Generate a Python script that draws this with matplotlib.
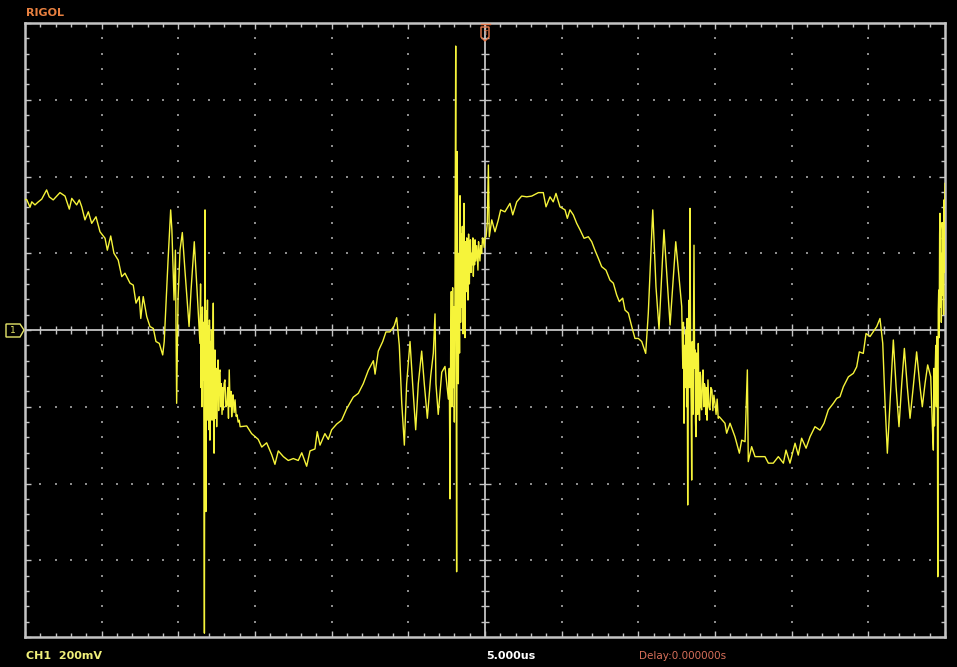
import numpy as np
import matplotlib.pyplot as plt
from matplotlib.patches import Polygon

# Oscilloscope trace (5 us/div, 200 mV/div), in pieces
# first half-swing and its ringing
seg1_t = [-30.0, -29.89, -29.67, -29.56, -29.35, -29.13, -28.91, -28.59, -28.42, -28.16,
          -27.93, -27.72, -27.39, -27.11, -26.95, -26.63, -26.46, -26.30, -26.09, -25.87,
          -25.65, -25.37, -25.11, -24.78, -24.63, -24.41, -24.20, -23.92, -23.69, -23.48,
          -23.15, -22.94, -22.76, -22.55, -22.45, -22.29, -22.06, -21.85, -21.63, -21.46,
          -21.24, -21.02, -20.92, -20.67, -20.50, -20.42, -20.28, -20.19, -20.11, -20.02,
          -19.89, -19.74, -19.57, -19.30, -19.17, -18.96, -18.78, -18.59]
seg1_v = [340, 340, 320, 334, 326, 334, 341, 365, 347, 339,
          349, 358, 349, 315, 343, 326, 339, 321, 287, 308,
          278, 295, 256, 239, 208, 245, 200, 182, 139, 148,
          122, 117, 70, 87, 30, 87, 35, 9, 4, -30,
          -35, -65, -30, 182, 313, 261, 78, 208, -191, 78,
          208, 254, 156, 9, 104, 230, 104, -35]

# switching burst 1
burst1_t = [-18.55, -18.52, -18.49, -18.46, -18.43, -18.39, -18.35, -18.30, -18.26, -18.22,
            -18.20, -18.17, -18.13, -18.10, -18.07, -18.04, -18.00, -17.97, -17.94, -17.91,
            -17.87, -17.84, -17.80, -17.76, -17.72, -17.69, -17.67, -17.64, -17.61, -17.57,
            -17.53, -17.50, -17.46, -17.41, -17.37, -17.33, -17.28, -17.24, -17.20, -17.15,
            -17.10, -17.07, -17.02, -16.96, -16.90, -16.83, -16.78, -16.73, -16.68, -16.62,
            -16.56, -16.52, -16.46, -16.43, -16.36, -16.30, -16.23, -16.17, -16.10, -16.03,
            -15.97]
burst1_v = [120, -150, 40, -200, 60, -130, 20, -790, 313, -150,
            -473, 50, -200, 78, -235, 10, -260, 26, -287, -30,
            -200, 0, -235, -60, 70, -200, -321, -80, -52, -230,
            -100, -252, -120, -78, -210, -110, -104, -200, -140, -220,
            -150, -208, -140, -130, -200, -195, -150, -230, -104, -200,
            -160, -226, -180, -169, -215, -182, -225, -221, -240, -235,
            -252]

# second half-swing (negative) and its ringing
seg2_t = [-15.54, -15.22, -14.79, -14.56, -14.24, -13.91, -13.70, -13.48, -13.15, -12.83,
          -12.50, -12.18, -11.95, -11.63, -11.41, -11.09, -10.94, -10.76, -10.44, -10.22,
          -10.00, -9.67, -9.35, -9.02, -8.59, -8.26, -7.94, -7.61, -7.28, -7.17,
          -6.96, -6.67, -6.46, -6.20, -5.93, -5.76, -5.59, -5.43, -5.26, -5.11,
          -4.89, -4.72, -4.52, -4.35, -4.13, -3.96, -3.76, -3.54, -3.37, -3.26,
          -3.20, -3.05, -2.82, -2.61]
seg2_v = [-250, -270, -285, -305, -294, -325, -350, -315, -330, -340,
          -335, -340, -320, -355, -315, -310, -265, -300, -270, -285,
          -260, -245, -235, -205, -175, -165, -140, -105, -80, -115,
          -55, -30, -5, -5, 10, 32, -40, -190, -300, -140,
          -30, -140, -260, -140, -55, -140, -230, -120, -60, 42,
          -140, -220, -110, -95]

# switching burst 2 (around the trigger point)
burst2_t = [-2.39, -2.33, -2.28, -2.24, -2.20, -2.16, -2.11, -2.07, -2.03, -2.00,
            -1.96, -1.91, -1.88, -1.85, -1.81, -1.77, -1.74, -1.70, -1.66, -1.63,
            -1.59, -1.55, -1.52, -1.48, -1.43, -1.40, -1.37, -1.33, -1.30, -1.26,
            -1.22, -1.19, -1.15, -1.11, -1.07, -1.02, -0.98, -0.95, -0.91, -0.87,
            -0.83, -0.79, -0.76, -0.72, -0.68, -0.65, -0.60, -0.54, -0.50, -0.46,
            -0.42, -0.39, -0.33, -0.28, -0.22, -0.16, -0.11, -0.05, 0.00]
burst2_v = [-180, -100, -440, -60, 100, -200, 110, -150, 60, -240,
            80, 740, -100, -630, 465, -50, -140, 200, -60, 350,
            20, 250, 60, 270, -10, 261, 330, 50, -20, 230,
            100, 240, 120, 78, 250, 120, 200, 235, 150, 200,
            170, 240, 140, 210, 170, 235, 180, 220, 190, 156,
            230, 208, 180, 220, 200, 240, 235, 215, 240]

# third half-swing (positive) and its ringing
seg3_t = [0.07, 0.15, 0.22, 0.28, 0.44, 0.65, 0.87, 1.02, 1.30,
          1.63, 1.81, 2.07, 2.39, 2.72, 3.05, 3.48, 3.80, 3.98, 4.24,
          4.45, 4.63, 4.89, 5.22, 5.37, 5.54, 5.76, 5.98, 6.20, 6.46,
          6.74, 6.96, 7.17, 7.39, 7.61, 7.89, 8.15, 8.37, 8.59, 8.76,
          8.98, 9.13, 9.35, 9.57, 9.78, 10.00, 10.22, 10.48, 10.65, 10.94,
          11.15, 11.35, 11.67, 12.07, 12.44]
seg3_v = [243, 280, 430, 243, 287, 256, 287, 313, 308,
          330, 300, 334, 349, 347, 349, 358, 358, 321, 347,
          334, 356, 321, 313, 291, 313, 300, 278, 261, 239,
          243, 230, 208, 187, 165, 156, 130, 122, 91, 74,
          83, 52, 44, 9, -22, -22, -30, -61, 44, 313,
          113, 2, 261, 13, 230]

# switching burst 3
burst3_t = [12.83, 12.90, 12.94, 12.98, 13.02, 13.06, 13.11, 13.15, 13.18, 13.22,
            13.26, 13.31, 13.34, 13.37, 13.41, 13.45, 13.48, 13.52, 13.56, 13.60,
            13.63, 13.67, 13.70, 13.73, 13.76, 13.80, 13.83, 13.87, 13.91, 13.95,
            13.99, 14.04, 14.09, 14.13, 14.18, 14.22, 14.27, 14.31, 14.35, 14.40,
            14.44, 14.48, 14.54, 14.60, 14.67, 14.73, 14.80, 14.86, 14.93, 15.00,
            15.07, 15.14, 15.21, 15.28]
burst3_v = [61, -100, 20, -243, -40, -150, 0, -200, 30, -456,
            -60, 78, -150, 317, -80, -200, -391, -30, -220, 40,
            221, -100, -52, -240, -278, -60, -78, -220, -35, -180,
            -235, -110, -200, -208, -120, -104, -200, -140, -148, -220,
            -150, -235, -130, -200, -208, -150, -156, -210, -170, -191,
            -220, -180, -230, -226]

# fourth half-swing (negative) and its ringing
seg4_t = [15.65, 15.76, 15.98, 16.30, 16.59, 16.74, 16.96, 17.11, 17.17, 17.39,
          17.61, 17.93, 18.26, 18.48, 18.80, 19.13, 19.46, 19.63, 19.89, 20.22,
          20.43, 20.65, 20.94, 21.20, 21.52, 21.85, 22.11, 22.39, 22.72, 22.94,
          23.15, 23.37, 23.70, 24.02, 24.24, 24.41, 24.67, 24.85, 25.11, 25.33,
          25.55, 25.76, 25.94, 26.09, 26.24, 26.41, 26.63, 26.81, 27.00, 27.18,
          27.35, 27.54, 27.72, 27.93, 28.15, 28.37, 28.52, 28.70, 28.87, 29.07]
seg4_v = [-243, -269, -243, -278, -321, -287, -291, -104, -343, -304,
          -330, -330, -330, -347, -347, -330, -347, -313, -347, -295,
          -326, -282, -308, -278, -252, -261, -243, -208, -191, -178,
          -174, -148, -122, -113, -96, -57, -61, -9, -17, -4,
          9, 30, -35, -191, -321, -191, -26, -148, -252, -139,
          -48, -148, -230, -148, -57, -148, -200, -139, -91, -122]

# switching burst 4 (right edge)
burst4_t = [29.20, 29.24, 29.28, 29.31, 29.35, 29.40, 29.44, 29.46, 29.50, 29.53,
            29.56, 29.59, 29.62, 29.65, 29.67, 29.70, 29.73, 29.76, 29.78, 29.81,
            29.84, 29.87, 29.89, 29.91, 29.93, 29.96, 29.98, 30.0]
burst4_v = [-278, -313, -100, -250, -122, -40, -200, -17, -100, -643,
            50, 104, -20, 250, 304, 60, 200, 20, 70, 280,
            261, 90, 191, 40, 339, 150, 300, 382]

time_us = np.concatenate([seg1_t, burst1_t, seg2_t, burst2_t, seg3_t, burst3_t, seg4_t, burst4_t])
volt_mv = np.concatenate([seg1_v, burst1_v, seg2_v, burst2_v, seg3_v, burst3_v, seg4_v, burst4_v])

W, H = 957, 667
fig = plt.figure(figsize=(W / 100, H / 100), dpi=100, facecolor='black')
ax = fig.add_axes([25 / W, 30 / H, 920 / W, 614 / H], facecolor='black')

gray = '#c4c4c4'
dotc = '#8c8c8c'

# dotted graticule
gx, gy = [], []
for x in range(-25, 30, 5):
    if x == 0:
        continue
    for y in range(-760, 800, 40):
        gx.append(x)
        gy.append(y)
for y in range(-600, 800, 200):
    if y == 0:
        continue
    for x in range(-29, 30):
        gx.append(x)
        gy.append(y)
ax.scatter(gx, gy, s=1.2, marker='s', color=dotc, linewidths=0, zorder=1)

# center cross with ticks
ax.axhline(0, color=gray, lw=1.3, zorder=2)
ax.axvline(0, color=gray, lw=1.3, zorder=2)
mx = [x for x in range(-29, 30) if x % 5 != 0]
Mx = [x for x in range(-25, 30, 5) if x != 0]
my = [y for y in range(-760, 800, 40) if y % 200 != 0]
My = [y for y in range(-600, 800, 200) if y != 0]
ax.scatter(mx, np.zeros(len(mx)), marker='|', s=30, color=gray, linewidths=1, zorder=2)
ax.scatter(Mx, np.zeros(len(Mx)), marker='|', s=70, color=gray, linewidths=1, zorder=2)
ax.scatter(np.zeros(len(my)), my, marker='_', s=30, color=gray, linewidths=1, zorder=2)
ax.scatter(np.zeros(len(My)), My, marker='_', s=70, color=gray, linewidths=1, zorder=2)

# waveform
ax.plot(time_us, volt_mv, color='#f6f43a', lw=1.0, zorder=3)

ax.set_xlim(-30, 30)
ax.set_ylim(-800, 800)
ax.set_xticks(range(-30, 31, 5))
ax.set_xticks(range(-30, 31, 1), minor=True)
ax.set_yticks(range(-800, 801, 200))
ax.set_yticks(range(-800, 801, 40), minor=True)
ax.tick_params(which='both', direction='in', top=True, right=True,
               labelbottom=False, labelleft=False, color=gray, width=1)
ax.tick_params(which='major', length=4)
ax.tick_params(which='minor', length=3)
for s in ax.spines.values():
    s.set_color(gray)
    s.set_linewidth(1.8)


def px(x, y):
    return (x / W, 1 - y / H)


# channel 1 marker
yel = '#e6e66a'
fig.add_artist(Polygon([px(6, 324), px(20, 324), px(24, 330), px(20, 337), px(6, 337)],
                       closed=True, fill=False, edgecolor=yel, lw=1, transform=fig.transFigure))
fig.text(*px(13, 331), '1', color=yel, fontsize=6.5, ha='center', va='center')

# trigger marker
org = '#e8784a'
fig.add_artist(Polygon([px(481, 27), px(489, 27), px(489, 37), px(485, 41), px(481, 37)],
                       closed=True, fill=False, edgecolor=org, lw=1, transform=fig.transFigure))
fig.add_artist(plt.Line2D([481 / W, 490 / W], [1 - 24 / H, 1 - 24 / H], color=org, lw=1))
fig.text(*px(485, 33), 'T', color=org, fontsize=5, ha='center', va='center')

# screen labels
fig.text(*px(26, 13), 'RIGOL', color='#e88040', fontsize=8, fontweight='bold', va='center')
fig.text(*px(26, 656), 'CH1  200mV', color='#f0f07a', fontsize=8, fontweight='bold', va='center')
fig.text(*px(486, 656), '5.000us', color='white', fontsize=8, fontweight='bold', va='center')
fig.text(*px(639, 656), 'Delay:0.000000s', color='#d8705a', fontsize=7.5, va='center')

fig.savefig('out.png', dpi=100, facecolor='black')
